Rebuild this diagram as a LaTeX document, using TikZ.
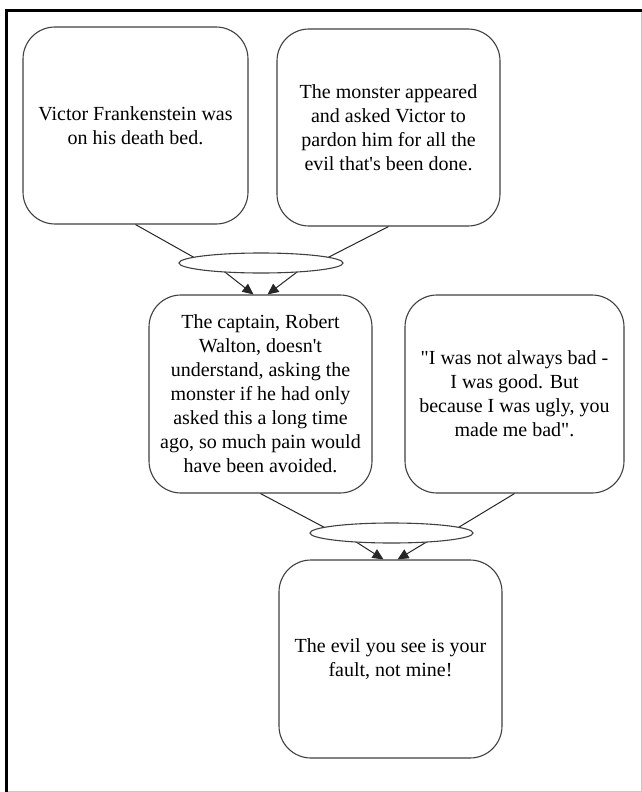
\documentclass[tikz,border=0pt]{standalone}
\usepackage{fontspec}
\newfontfamily\rf{Liberation Serif}
\usetikzlibrary{shapes.geometric,arrows.meta,calc}
\begin{document}
\begin{tikzpicture}[x=1pt,y=-1pt,
  box/.style={draw=black!75, line width=1.1pt, rounded corners=32pt, fill=white,
    align=center, inner sep=0pt, font=\rf\fontsize{20}{24}\selectfont},
  joint/.style={ellipse, draw=black!75, line width=1.1pt, fill=white, inner sep=0pt},
  link/.style={draw=black!85, line width=1pt},
  arr/.style={link, -{Triangle[length=11pt,width=10pt]}}
]
\useasboundingbox (0,0) rectangle (642,792);
% page frame
\draw[gray!45, line width=1pt] (641,10.5) -- (641,791) -- (6.5,791);
\draw[line width=3.5pt] (6.5,792) -- (6.5,10.5) -- (642,10.5);
% boxes
\node[box, minimum width=225pt, minimum height=197pt] (b1) at (135.5,125.5)
  {Victor Frankenstein was\\on his death bed.};
\node[box, minimum width=223pt, minimum height=197pt] (b2) at (388.5,127.5)
  {The monster appeared\\and asked Victor to\\pardon him for all the\\evil that's been done.};
\node[box, minimum width=223pt, minimum height=198pt] (b3) at (260.5,394)
  {The captain, Robert\\Walton, doesn't\\understand, asking the\\monster if he had only\\asked this a long time\\ago, so much pain would\\have been avoided.};
\node[box, minimum width=219pt, minimum height=198pt] (b4) at (514.5,394)
  {"I was not always bad -\\I was good.  But\\because I was ugly,  you\\made me bad".};
\node[box, minimum width=223pt, minimum height=198pt] (b5) at (390.5,659)
  {The evil you see is your\\fault, not mine!};
% joint centres
\coordinate (c1) at (261,263);
\coordinate (c2) at (391.5,533);
% connectors (drawn beneath the joints)
\draw[link] (b1.south) -- ($(c1)+(-66,-5)$);
\draw[link] (b2.south) -- ($(c1)+(66,-5)$);
\draw[arr] ($(c1)+(-40,6)$) -- ($(b3.north)+(-7,0)$);
\draw[arr] ($(c1)+(40,6)$) -- ($(b3.north)+(7,0)$);
\draw[link] (b3.south) -- ($(c2)+(-66,-5)$);
\draw[link] (b4.south) -- ($(c2)+(66,-5)$);
\draw[arr] ($(c2)+(-40,6)$) -- ($(b5.north)+(-7,0)$);
\draw[arr] ($(c2)+(40,6)$) -- ($(b5.north)+(7,0)$);
% joints
\node[joint, minimum width=164pt, minimum height=20pt] (e1) at (c1) {};
\node[joint, minimum width=163pt, minimum height=20pt] (e2) at (c2) {};
\end{tikzpicture}
\end{document}
